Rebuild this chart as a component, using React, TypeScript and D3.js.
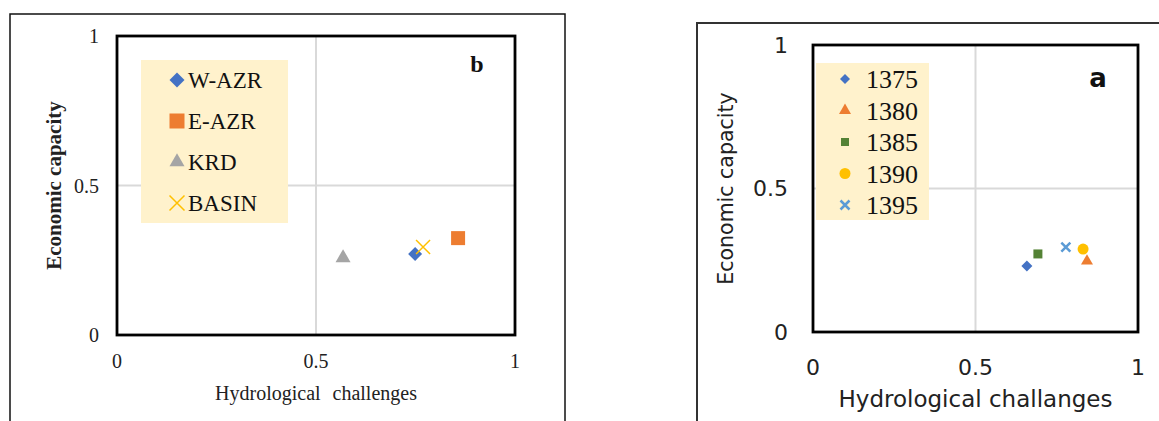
import React from "react";
import * as d3 from "d3";

// ---- panel b: regions ----
const basinNames = ["W-AZR", "E-AZR", "KRD", "BASIN"];
const basinHydro = [0.749, 0.857, 0.568, 0.769];
const basinEcon = [0.271, 0.324, 0.258, 0.294];
const basinColors = ["#4472C4", "#ED7D31", "#A5A5A5", "#FFC000"];
const basinShapes = ["diamond", "square", "triangle", "x"];

// ---- panel a: years ----
const yearNames = ["1375", "1380", "1385", "1390", "1395"];
const yearHydro = [0.658, 0.843, 0.692, 0.831, 0.778];
const yearEcon = [0.23, 0.247, 0.272, 0.289, 0.296];
const yearColors = ["#4472C4", "#ED7D31", "#548235", "#FFC000", "#5B9BD5"];
const yearShapes = ["diamond", "triangle", "square", "circle", "x"];

const tickValues = [0, 0.5, 1];
const tickLabels = ["0", "0.5", "1"];

type Shape = string;

// marker path of roughly w px across, built from d3 symbols
function markerPath(shape: Shape, w: number) {
  switch (shape) {
    case "diamond":
      return d3.symbol(d3.symbolSquare, (w * w) / 2)() as string;
    case "square":
      return d3.symbol(d3.symbolSquare, w * w)() as string;
    case "triangle":
      return d3.symbol(d3.symbolTriangle, (Math.sqrt(3) / 4) * w * w)() as string;
    case "circle":
      return d3.symbol(d3.symbolCircle, (Math.PI * w * w) / 4)() as string;
    default:
      return d3.symbol(d3.symbolTimes, Math.pow(w / 2 / 0.6189, 2) + 1.7)() as string;
  }
}

function Marker({ shape, x, y, w, color, xWidth }: any) {
  const isX = shape === "x";
  return (
    <path
      d={markerPath(shape, w)}
      transform={`translate(${x},${y})${shape === "diamond" ? " rotate(45)" : ""}`}
      fill={isX ? "none" : color}
      stroke={isX ? color : "none"}
      strokeWidth={isX ? xWidth : 0}
    />
  );
}

function Panel(p: any) {
  const x = d3.scaleLinear().domain([0, 1]).range([p.left, p.right]);
  const y = d3.scaleLinear().domain([0, 1]).range([p.bottom, p.top]);
  const midX = (p.left + p.right) / 2;
  const midY = (p.top + p.bottom) / 2;
  return (
    <g>
      {/* outer frame */}
      <rect x={p.frame[0]} y={p.frame[1]} width={p.frame[2]} height={p.frame[3]}
        fill="none" stroke={p.frameColor} strokeWidth={p.frameWidth} />
      {/* gridlines */}
      {tickValues.slice(1, 2).map((t) => (
        <g key={t}>
          <line x1={x(t)} x2={x(t)} y1={p.top} y2={p.bottom} stroke="#D9D9D9" strokeWidth={2} />
          <line x1={p.left} x2={p.right} y1={y(t)} y2={y(t)} stroke="#D9D9D9" strokeWidth={2} />
        </g>
      ))}
      {/* legend */}
      <rect x={p.legend.x} y={p.legend.y} width={p.legend.w} height={p.legend.h} fill="#FFF2CC" />
      {p.names.map((n: string, i: number) => (
        <g key={n}>
          <Marker shape={p.shapes[i]} x={p.legend.mx} y={p.legend.row0 + i * p.legend.step}
            w={p.legendSizes[i]} color={p.colors[i]} xWidth={p.xWidth} />
          <text x={p.legend.tx} y={p.legend.row0 + i * p.legend.step + p.legend.base}
            fontFamily={p.legendFont} fontSize={p.legendSize} fill="#111">{n}</text>
        </g>
      ))}
      {/* points */}
      {p.names.map((n: string, i: number) => (
        <Marker key={n} shape={p.shapes[i]} x={x(p.xs[i])} y={y(p.ys[i])}
          w={p.sizes[i]} color={p.colors[i]} xWidth={p.xWidth} />
      ))}
      {/* plot border */}
      <rect x={p.left} y={p.top} width={p.right - p.left} height={p.bottom - p.top}
        fill="none" stroke="#000" strokeWidth={2.8} />
      {/* ticks */}
      {tickValues.map((t, i) => (
        <g key={t} fontFamily={p.tickFont} fontSize={p.tickSize} fill="#222">
          <text x={p.left - p.yTickGap} y={y(t)} dy="0.35em" textAnchor="end">{tickLabels[i]}</text>
          <text x={x(t)} y={p.xTickBase} textAnchor="middle">{tickLabels[i]}</text>
        </g>
      ))}
      {/* axis titles */}
      <text x={midX} y={p.xTitleBase} textAnchor="middle" fontFamily={p.titleFont}
        fontSize={p.xTitleSize} wordSpacing={p.wordSpacing} fill="#222">{p.xTitle}</text>
      <text transform={`translate(${p.yTitleX},${midY}) rotate(-90)`} textAnchor="middle"
        fontFamily={p.titleFont} fontWeight={p.yTitleWeight} fontSize={p.yTitleSize} fill="#222">
        Economic capacity
      </text>
      {/* panel letter */}
      <text x={p.letter.x} y={p.letter.y} textAnchor="middle" fontFamily={p.letter.font}
        fontWeight="bold" fontSize={p.letter.size} fill="#111">{p.letter.text}</text>
    </g>
  );
}

export default function App() {
  return (
    <div style={{ position: "absolute", left: 0, top: 0 }}>
      <svg width={1159} height={421} style={{ display: "block", background: "#fff" }}>
        <Panel
          frame={[10, 14, 555, 440]} frameColor="#111" frameWidth={1.5}
          left={117} right={515} top={36} bottom={335}
          names={basinNames} xs={basinHydro} ys={basinEcon} colors={basinColors} shapes={basinShapes}
          sizes={[14, 14, 15, 14]} legendSizes={[15, 15, 15, 15]} xWidth={1.5}
          legend={{ x: 141, y: 60, w: 147, h: 163, mx: 177, tx: 188, row0: 80, step: 41, base: 8 }}
          legendFont="'Liberation Serif', serif" legendSize={23}
          tickFont="'Liberation Serif', serif" tickSize={20} yTickGap={18} xTickBase={368}
          titleFont="'Liberation Serif', serif" xTitle="Hydrological challenges" xTitleSize={20}
          wordSpacing={7} xTitleBase={400} yTitleX={61} yTitleSize={21} yTitleWeight="bold"
          letter={{ x: 477, y: 72, size: 24, font: "'Liberation Serif', serif", text: "b" }}
        />
        <Panel
          frame={[697, 23, 600, 440]} frameColor="#333" frameWidth={2}
          left={813} right={1138} top={45} bottom={332}
          names={yearNames} xs={yearHydro} ys={yearEcon} colors={yearColors} shapes={yearShapes}
          sizes={[11, 12, 9, 11, 9]} legendSizes={[10, 12, 8, 11, 9]} xWidth={2.5}
          legend={{ x: 816, y: 63, w: 113, h: 157, mx: 845, tx: 866, row0: 79, step: 31.5, base: 9 }}
          legendFont="'Liberation Serif', serif" legendSize={26}
          tickFont="'DejaVu Sans', sans-serif" tickSize={22} yTickGap={25} xTickBase={375}
          titleFont="'DejaVu Sans', sans-serif" xTitle="Hydrological challanges" xTitleSize={23}
          wordSpacing={0} xTitleBase={407} yTitleX={733} yTitleSize={20.5} yTitleWeight="normal"
          letter={{ x: 1098, y: 87, size: 26, font: "'DejaVu Sans', sans-serif", text: "a" }}
        />
      </svg>
    </div>
  );
}
